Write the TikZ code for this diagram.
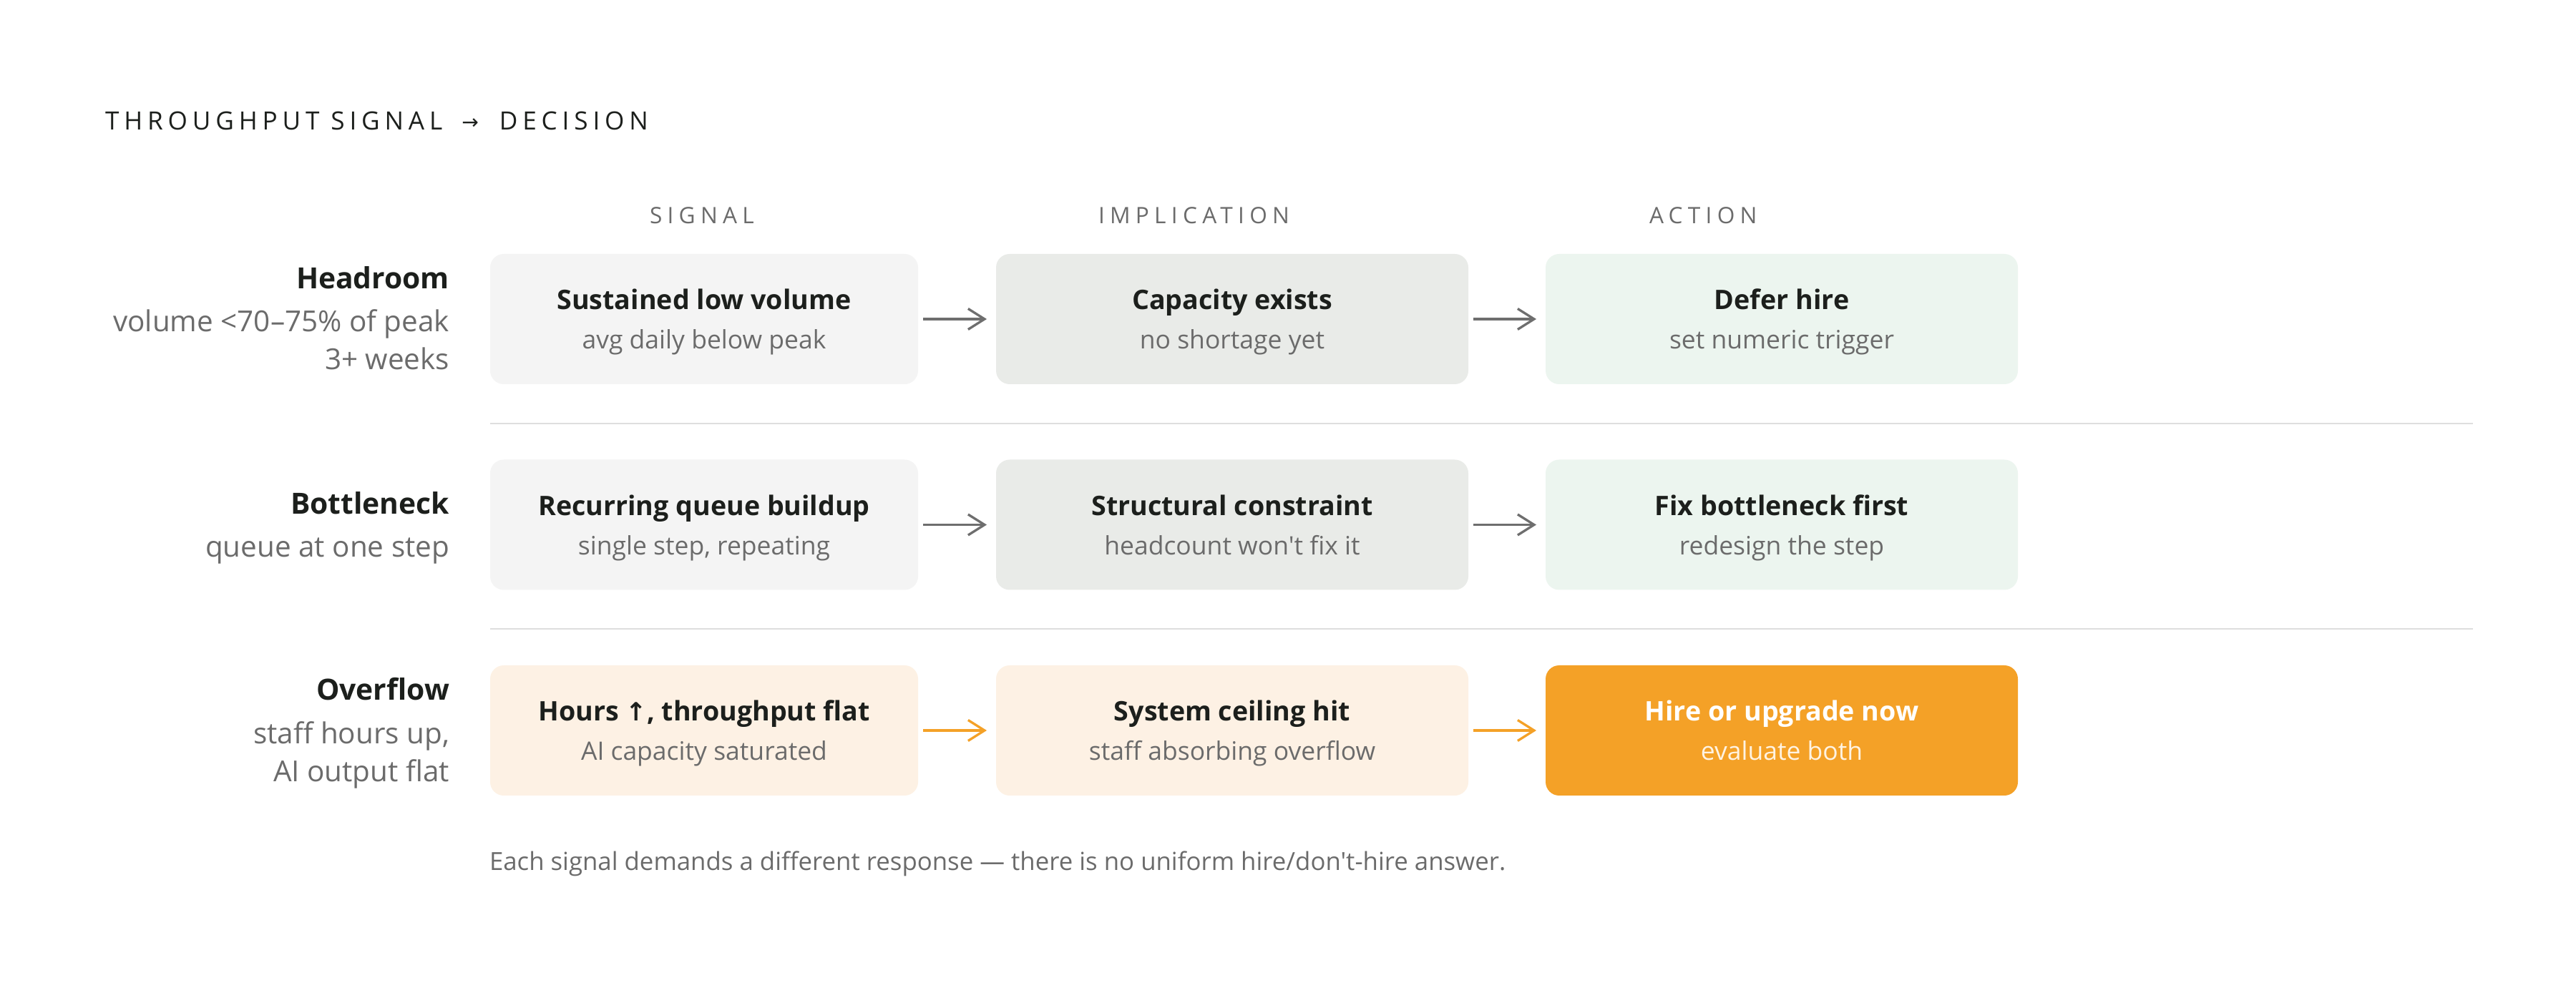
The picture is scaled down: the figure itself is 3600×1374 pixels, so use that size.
\documentclass[tikz,border=0pt]{standalone}
\usepackage{fontspec}
\newfontfamily\ofont{Open Sans}
\newfontfamily\ofontsp{Open Sans}[LetterSpace=19.5]
\newfontfamily\ofonthd{Open Sans}[LetterSpace=23]
\newfontfamily\dvfont{DejaVu Sans}
\usetikzlibrary{arrows.meta}
\definecolor{ink}{HTML}{1C1F1C}
\definecolor{muted}{HTML}{6B6B6B}
\definecolor{sigfill}{HTML}{F4F4F4}
\definecolor{impfill}{HTML}{E9EBE8}
\definecolor{actfill}{HTML}{ECF5EF}
\definecolor{warmfill}{HTML}{FDF1E4}
\definecolor{orangefill}{HTML}{F4A127}
\definecolor{creamtext}{HTML}{FFF3E2}
\definecolor{rulegray}{HTML}{DEDEDE}
\definecolor{arrgray}{HTML}{6E6E6E}
\newcommand\fsz[1]{\fontsize{#1}{#1}\selectfont}
\begin{document}
\begin{tikzpicture}[x=0.1mm,y=-0.1mm,
  every node/.style={inner sep=0pt, outer sep=0pt},
  box/.style={rounded corners=1.9mm, minimum height=18.2mm, draw=none},
  narrowbox/.style={box, minimum width=59.8mm},
  widebox/.style={box, minimum width=66mm},
  boxtitle/.style={anchor=base, text=ink, font=\ofont\bfseries\fsz{10.7pt}},
  boxsub/.style={anchor=base, text=muted, font=\ofont\fsz{10.1pt}},
  rowtitle/.style={anchor=base east, text=ink, font=\ofont\bfseries\fsz{11.6pt}},
  rowsub/.style={anchor=base east, text=muted, font=\ofont\fsz{11.5pt}},
  header/.style={anchor=base west, text=muted, font=\ofonthd\fsz{9pt}},
  arr/.style={draw=arrgray, line width=0.33mm, -{Straight Barb[length=2.3mm, width=2.9mm, line width=0.33mm]}},
  warmarr/.style={arr, draw=orangefill},
  sep/.style={draw=rulegray, line width=0.2mm}
]
\useasboundingbox[fill=white] (0,0) rectangle (3600,1374);

% title
\node[anchor=base west, text=ink, font=\ofontsp\fsz{10pt}] (title) at (147,182)
  {THROUGHPUT SIGNAL\hspace{1.1mm} {\dvfont\fsz{8pt}\raisebox{0.5pt}{→}}\hspace{1.3mm} DECISION};

% column headers
\node[header] (hsig) at (908,313) {SIGNAL};
\node[header] (himp) at (1535,313) {IMPLICATION};
\node[header] (hact) at (2305,313) {ACTION};

% ---------- row 1 : Headroom ----------
\node[rowtitle] (l1a) at (628,404) {Headroom};
\node[rowsub] (l1b) at (628,464) {volume <70–75\% of peak};
\node[rowsub] (l1c) at (628,517) {3+ weeks};

\node[narrowbox, fill=sigfill] (b11) at (984,446) {};
\node[widebox, fill=impfill] (b12) at (1722,446) {};
\node[widebox, fill=actfill] (b13) at (2490,446) {};
\node[boxtitle] (t11) at (984,433) {Sustained low volume};
\node[boxsub] (s11) at (984,488) {avg daily below peak};
\node[boxtitle] (t12) at (1722,433) {Capacity exists};
\node[boxsub] (s12) at (1722,488) {no shortage yet};
\node[boxtitle] (t13) at (2490,433) {Defer hire};
\node[boxsub] (s13) at (2490,488) {set numeric trigger};
\draw[arr] ([xshift=0.7mm]b11.east) -- ([xshift=-1.3mm]b12.west);
\draw[arr] ([xshift=0.7mm]b12.east) -- ([xshift=-1.3mm]b13.west);

\coordinate (r1a) at (685,592);
\coordinate (r1b) at (3456,592);
\draw[sep] (r1a) -- (r1b);

% ---------- row 2 : Bottleneck ----------
\node[rowtitle] (l2a) at (628,719) {Bottleneck};
\node[rowsub] (l2b) at (628,779) {queue at one step};

\node[narrowbox, fill=sigfill] (b21) at (984,733.5) {};
\node[widebox, fill=impfill] (b22) at (1722,733.5) {};
\node[widebox, fill=actfill] (b23) at (2490,733.5) {};
\node[boxtitle] (t21) at (984,720.5) {Recurring queue buildup};
\node[boxsub] (s21) at (984,775.5) {single step, repeating};
\node[boxtitle] (t22) at (1722,720.5) {Structural constraint};
\node[boxsub] (s22) at (1722,775.5) {headcount won't fix it};
\node[boxtitle] (t23) at (2490,720.5) {Fix bottleneck first};
\node[boxsub] (s23) at (2490,775.5) {redesign the step};
\draw[arr] ([xshift=0.7mm]b21.east) -- ([xshift=-1.3mm]b22.west);
\draw[arr] ([xshift=0.7mm]b22.east) -- ([xshift=-1.3mm]b23.west);

\coordinate (r2a) at (685,879);
\coordinate (r2b) at (3456,879);
\draw[sep] (r2a) -- (r2b);

% ---------- row 3 : Overflow ----------
\node[rowtitle] (l3a) at (628,979) {Overflow};
\node[rowsub] (l3b) at (628,1039) {staff hours up,};
\node[rowsub] (l3c) at (628,1092) {AI output flat};

\node[narrowbox, fill=warmfill] (b31) at (984,1021) {};
\node[widebox, fill=warmfill] (b32) at (1722,1021) {};
\node[widebox, fill=orangefill] (b33) at (2490,1021) {};
\node[boxtitle] (t31) at (984,1008) {Hours {\dvfont\bfseries\fsz{10pt}↑}, throughput flat};
\node[boxsub] (s31) at (984,1063) {AI capacity saturated};
\node[boxtitle] (t32) at (1722,1008) {System ceiling hit};
\node[boxsub] (s32) at (1722,1063) {staff absorbing overflow};
\node[boxtitle, text=white] (t33) at (2490,1008) {Hire or upgrade now};
\node[boxsub, text=creamtext] (s33) at (2490,1063) {evaluate both};
\draw[warmarr] ([xshift=0.7mm]b31.east) -- ([xshift=-1.3mm]b32.west);
\draw[warmarr] ([xshift=0.7mm]b32.east) -- ([xshift=-1.3mm]b33.west);

% footnote
\node[anchor=base west, text=muted, font=\ofont\fsz{9.9pt}] (foot) at (684,1216)
  {Each signal demands a different response — there is no uniform hire/don't-hire answer.};
\end{tikzpicture}
\end{document}
